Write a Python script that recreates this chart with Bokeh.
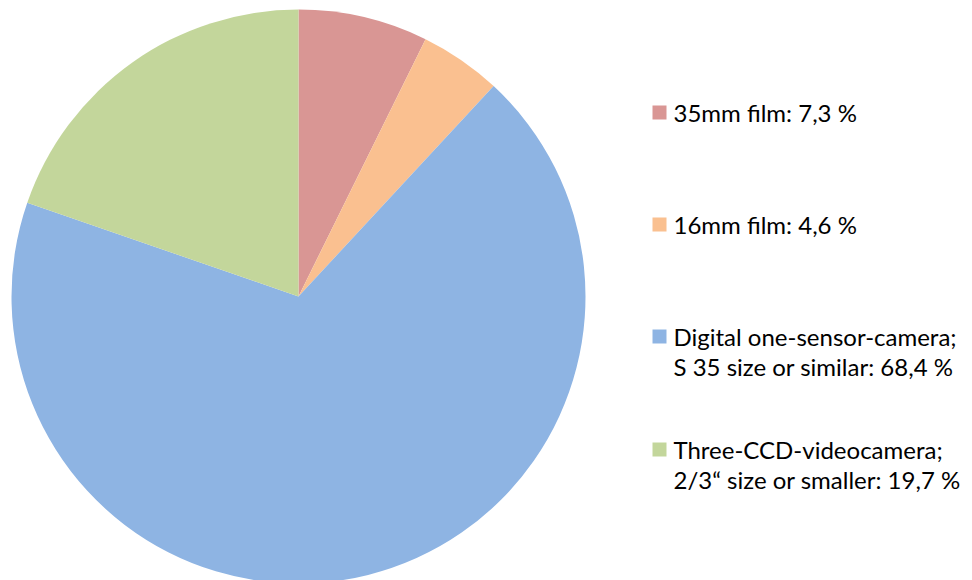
import math
from bokeh.plotting import figure
from bokeh.models import Range1d, ColumnDataSource
from bokeh.core.properties import value
from bokeh.embed import file_html
from bokeh.resources import INLINE

categories = [
    "35mm film: 7,3 %",
    "16mm film: 4,6 %",
    "Digital one-sensor-camera;\nS 35 size or similar: 68,4 %",
    "Three-CCD-videocamera;\n2/3\u201c size or smaller: 19,7 %",
]
shares = [7.3, 4.6, 68.4, 19.7]
colors = ["#D99694", "#FAC090", "#8EB4E3", "#C3D69B"]

W, H = 972, 580
p = figure(width=W, height=H, output_backend="svg", toolbar_location=None,
           x_range=Range1d(-298, W - 298), y_range=Range1d(296 - H, 296),
           min_border=0, outline_line_color=None)
p.axis.visible = False
p.grid.visible = False
p.background_fill_color = "white"
p.border_fill_color = "white"

total = sum(shares)
starts, ends = [], []
cum = 0.0
for s in shares:
    starts.append(math.pi / 2 - 2 * math.pi * cum / total)
    cum += s
    ends.append(math.pi / 2 - 2 * math.pi * cum / total)

src = ColumnDataSource(dict(start=starts, end=ends, color=colors))
p.wedge(x=0, y=0, radius=287, start_angle="start", end_angle="end",
        direction="clock", fill_color="color", line_color=None, source=src)

# legend
leg_y = [184, 72, -40, -153]
sq_x = 361
txt_x = 375
line_h = 30
for lab, col, yy in zip(categories, colors, leg_y):
    p.rect(x=sq_x, y=yy, width=14, height=14, fill_color=col, line_color=None)
    for i, line in enumerate(lab.split("\n")):
        p.text(x=[txt_x], y=[yy - i * line_h], text=[line],
               text_font=value("Lato"), text_font_size="24px",
               text_color="#000000", text_baseline="middle", text_align="left")

open("out.html", "w").write(file_html(p, INLINE))
